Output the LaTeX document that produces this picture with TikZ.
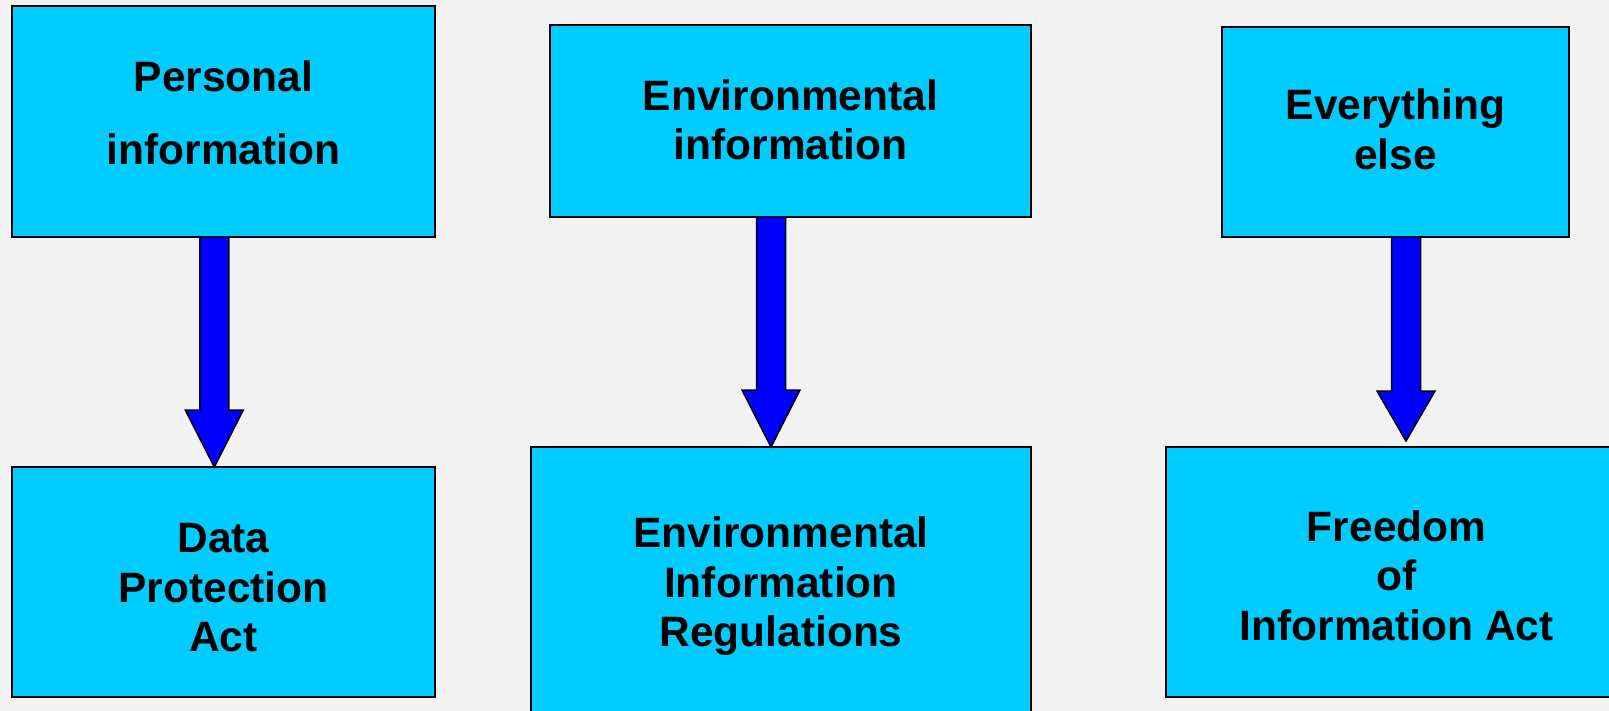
\documentclass[tikz,border=0pt]{standalone}
\usepackage{fontspec}
\setmainfont{Liberation Sans}
\usetikzlibrary{calc}
\definecolor{pagebg}{HTML}{F2F2F2}
\definecolor{boxcyan}{HTML}{00CCFF}
\definecolor{arrowblue}{HTML}{0000FF}
% fat block arrow: start point, tip point, head length (pt)
\newcommand\drawfatarrow[3]{%
  \draw[blockarrow] let \p1=#1, \p2=#2 in
    (\x1-14.5pt,\y1) -- (\x1-14.5pt,\y2+#3pt) -- (\x1-29pt,\y2+#3pt)
    -- (\x2,\y2) -- (\x1+29pt,\y2+#3pt) -- (\x1+14.5pt,\y2+#3pt)
    -- (\x1+14.5pt,\y1) -- cycle;}
\begin{document}
\begin{tikzpicture}[x=1pt,y=-1pt,
  panel/.style={draw=black, line width=1.5pt, fill=boxcyan, inner sep=0pt, outer sep=0pt},
  boxtext/.style={font=\bfseries\fontsize{42.5}{49.4}\selectfont, align=center,
    inner sep=0pt, anchor=north},
  blockarrow/.style={draw=black, line width=1.5pt, fill=arrowblue, line join=miter}]

\fill[pagebg] (0,0) rectangle (1609,711);
\useasboundingbox (0,0) rectangle (1609,711);

% boxes
\node[panel, minimum width=423pt, minimum height=231pt] (b1) at (223.5,121.5) {};
\node[panel, minimum width=481pt, minimum height=192pt] (b2) at (790.5,121) {};
\node[panel, minimum width=347pt, minimum height=210pt] (b3) at (1395.5,132) {};
\node[panel, minimum width=423pt, minimum height=230pt] (b4) at (223.5,582) {};
\node[panel, minimum width=500pt, minimum height=293pt] (b5) at (781,593.5) {};
\node[panel, minimum width=461pt, minimum height=250pt] (b6) at (1396.5,572) {};

% texts
\node[boxtext] (t1) at (223.5,60.2) {Personal\\[23.8pt]information};
\node[boxtext] (t2) at (790.5,79.5) {Environmental\\information};
\node[boxtext] (t3) at (1395.5,88.8) {Everything\\else};
\node[boxtext] (t4) at (223.5,523.5) {Data\\Protection\\Act};
\node[boxtext] (t5) at (781,516.8) {Environmental\\Information\\Regulations};
\node[boxtext] (t6) at (1396.7,510.5) {Freedom\\of\\Information Act};

% arrow axes
\coordinate (ax1) at (214.3,0);
\coordinate (ax2) at (771,0);
\coordinate (ax3) at (1406,0);

\drawfatarrow{(b1.south -| ax1)}{(b4.north -| ax1)}{57}
\drawfatarrow{(b2.south -| ax2)}{(b5.north -| ax2)}{57}
\drawfatarrow{(b3.south -| ax3)}{($(b6.north -| ax3)+(0,-6)$)}{50}
\end{tikzpicture}
\end{document}
